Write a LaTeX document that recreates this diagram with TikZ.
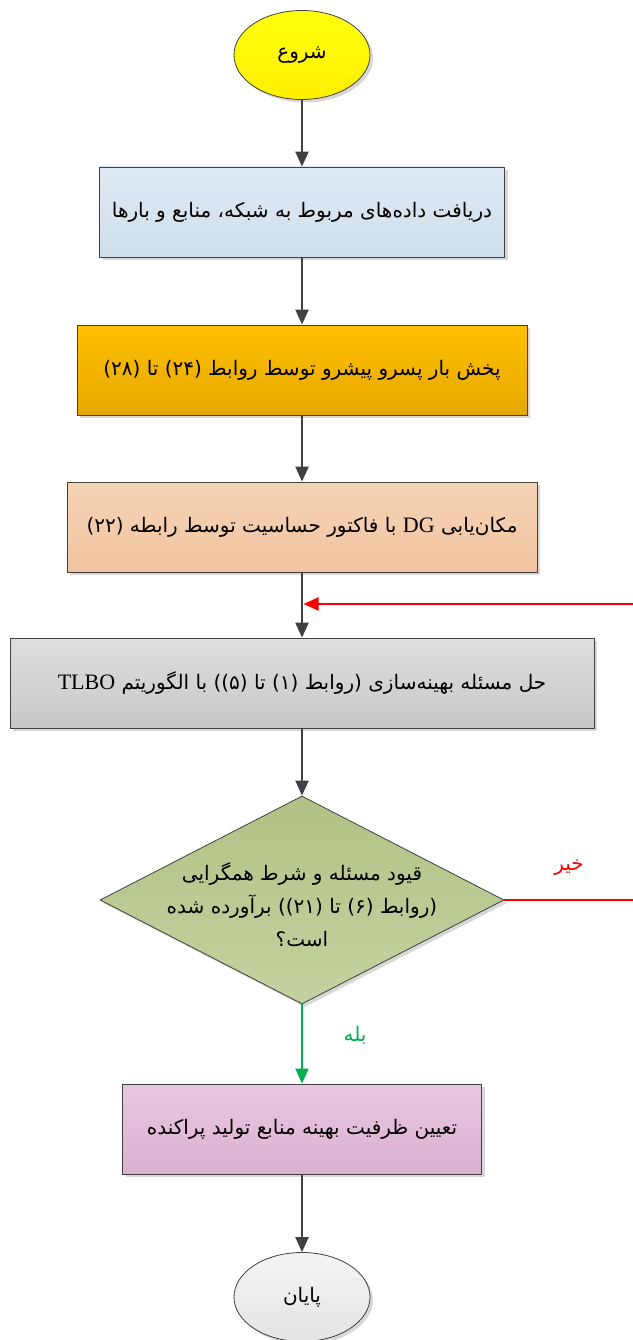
\documentclass[tikz,border=0pt]{standalone}
\usepackage{fontspec}
\setmainfont{Liberation Serif}
\newfontfamily\fa[Script=Arabic]{DejaVu Sans}
\TeXXeTstate=1
\usetikzlibrary{arrows.meta,shapes.geometric,shadows}
\newcommand{\RT}[1]{{\fa\beginR #1\endR}}
\newcommand{\LT}[1]{\beginL{\rmfamily\fontsize{22}{33}\selectfont #1}\endL{}}
\definecolor{lineg}{HTML}{404040}
\definecolor{grn}{HTML}{00B050}
\begin{document}
\begin{tikzpicture}[x=1pt,y=-1pt,
  every node/.style={font=\fontsize{20}{33}\selectfont},
  base/.style={draw=lineg, line width=0.8pt, shading=axis,
    drop shadow={shadow xshift=3pt, shadow yshift=-3pt, fill=black!30, opacity=0.5}},
  boxn/.style={base, rectangle, minimum height=90pt},
  term/.style={base, ellipse, minimum width=136pt, minimum height=89pt},
  flow/.style={draw=lineg, line width=2.2pt, -{Triangle[length=15pt,width=13pt]}},
  no/.style={draw=red, line width=2pt},
  yes/.style={draw=grn, line width=2pt, -{Triangle[length=15pt,width=13pt]}}
]
\useasboundingbox (0,0) rectangle (632,1340);
\node[term, top color=yellow!95!white, bottom color=yellow!88!orange] (s) at (302,55) {\RT{شروع}};
\node[boxn, minimum width=405pt, top color={rgb,255:red,224;green,234;blue,244}, bottom color={rgb,255:red,206;green,222;blue,236}] (b1) at (302,212) {\RT{دریافت داده‌های مربوط به شبکه، منابع و بارها}};
\node[boxn, minimum width=450pt, top color={rgb,255:red,255;green,192;blue,0}, bottom color={rgb,255:red,230;green,168;blue,0}] (b2) at (302,370) {\RT{پخش بار پسرو پیشرو توسط روابط (۲۴) تا (۲۸)}};
\node[boxn, minimum width=470pt, top color={rgb,255:red,246;green,212;blue,182}, bottom color={rgb,255:red,240;green,196;blue,160}] (b3) at (302,527) {\RT{مکان‌یابی \LT{DG} با فاکتور حساسیت توسط رابطه (۲۲)}};
\node[boxn, minimum width=584pt, top color={rgb,255:red,222;green,222;blue,222}, bottom color={rgb,255:red,200;green,200;blue,200}] (b4) at (302,683) {\RT{حل مسئله بهینه‌سازی (روابط (۱) تا (۵)) با الگوریتم \LT{TLBO}}};
\node[base, diamond, minimum width=404pt, minimum height=208pt, inner sep=0pt, align=center, top color={rgb,255:red,178;green,194;blue,134}, bottom color={rgb,255:red,196;green,210;blue,160}] (d) at (302,900) {};
\node[align=center] (dt) at (302,905) {\RT{قیود مسئله و شرط همگرایی}\\\RT{(روابط (۶) تا (۲۱)) برآورده شده}\\\RT{است؟}};
\node[boxn, minimum width=359pt, top color={rgb,255:red,232;green,200;blue,224}, bottom color={rgb,255:red,220;green,176;blue,208}] (b5) at (302,1129) {\RT{تعیین ظرفیت بهینه منابع تولید پراکنده}};
\node[term, top color={rgb,255:red,244;green,244;blue,244}, bottom color={rgb,255:red,228;green,228;blue,228}] (e) at (302,1297) {\RT{پایان}};
\node[text=red] (no) at (569,868) {\RT{خیر}};
\node[text=grn] (yes) at (355,1035) {\RT{بله}};
\coordinate (rc) at (645,604);
\coordinate (join) at (303.5,604);
\draw[flow] (s) -- (b1);
\draw[flow] (b1) -- (b2);
\draw[flow] (b2) -- (b3);
\draw[flow] (b3) -- (b4);
\draw[flow] (b4) -- (d);
\draw[yes] (d) -- (b5);
\draw[flow] (b5) -- (e);
\draw[no] (d.east) -| (rc);
\draw[no, -{Triangle[length=15pt,width=13pt]}] (rc) -- (join);
\end{tikzpicture}
\end{document}
